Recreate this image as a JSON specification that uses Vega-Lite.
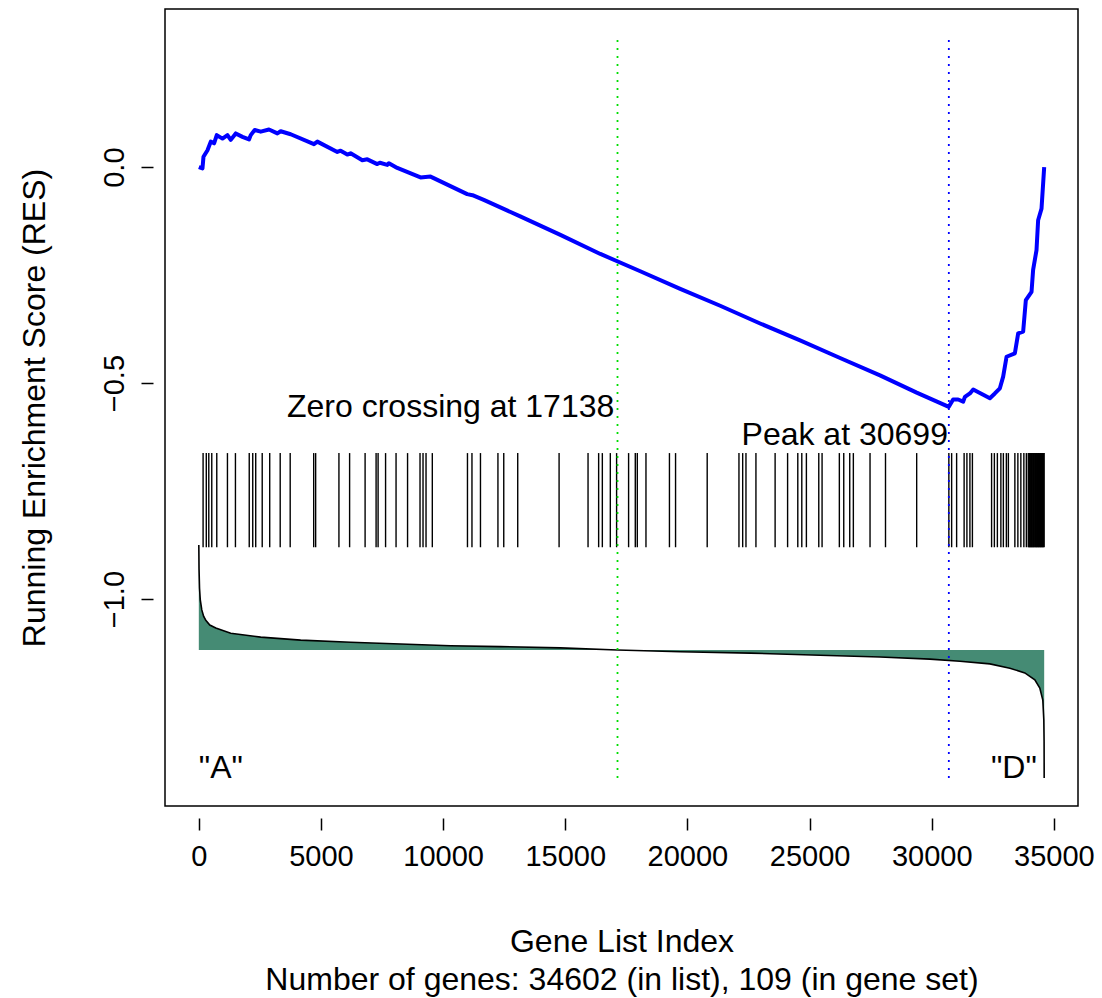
{
  "$schema": "https://vega.github.io/schema/vega-lite/v6.json",
  "autosize": {"type": "none"},
  "padding": {"left": 165, "top": 9, "right": 24, "bottom": 192},
  "width": 913,
  "height": 797,
  "background": "white",
  "config": {
    "font": "Liberation Sans",
    "view": {"stroke": "black", "strokeWidth": 1.5},
    "axis": {"grid": false, "labelColor": "black", "titleColor": "black", "tickColor": "black", "domain": false, "labelFont": "Liberation Sans", "titleFont": "Liberation Sans", "titleFontWeight": "normal"}
  },
  "datasets": {
    "es": [
      {"x": 1, "res": 0}, {"x": 151, "res": -0.003}, {"x": 192, "res": 0.024}, {"x": 356, "res": 0.039}, {"x": 491, "res": 0.059}, {"x": 626, "res": 0.055}, {"x": 736, "res": 0.074}, {"x": 969, "res": 0.066}, {"x": 1173, "res": 0.074}, {"x": 1308, "res": 0.063}, {"x": 1513, "res": 0.078}, {"x": 1787, "res": 0.070}, {"x": 2056, "res": 0.064}, {"x": 2126, "res": 0.074}, {"x": 2289, "res": 0.086}, {"x": 2535, "res": 0.082}, {"x": 2874, "res": 0.087}, {"x": 3217, "res": 0.078}, {"x": 3352, "res": 0.083}, {"x": 3761, "res": 0.076}, {"x": 4714, "res": 0.053}, {"x": 4853, "res": 0.059}, {"x": 5670, "res": 0.035}, {"x": 5805, "res": 0.038}, {"x": 6079, "res": 0.029}, {"x": 6214, "res": 0.032}, {"x": 6693, "res": 0.016}, {"x": 6897, "res": 0.018}, {"x": 7306, "res": 0.007}, {"x": 7412, "res": 0.010}, {"x": 7715, "res": 0.005}, {"x": 7780, "res": 0.009}, {"x": 8123, "res": -0.002}, {"x": 9076, "res": -0.024}, {"x": 9485, "res": -0.022}, {"x": 10985, "res": -0.0625}, {"x": 11202, "res": -0.065}, {"x": 11664, "res": -0.076}, {"x": 13156, "res": -0.114}, {"x": 14800, "res": -0.157}, {"x": 16435, "res": -0.201}, {"x": 18070, "res": -0.241}, {"x": 19705, "res": -0.282}, {"x": 21341, "res": -0.321}, {"x": 22976, "res": -0.362}, {"x": 24611, "res": -0.401}, {"x": 26247, "res": -0.442}, {"x": 27882, "res": -0.482}, {"x": 29383, "res": -0.522}, {"x": 30699, "res": -0.555}, {"x": 30875, "res": -0.538}, {"x": 31080, "res": -0.538}, {"x": 31287, "res": -0.543}, {"x": 31357, "res": -0.532}, {"x": 31562, "res": -0.524}, {"x": 31697, "res": -0.515}, {"x": 32379, "res": -0.535}, {"x": 32583, "res": -0.524}, {"x": 32788, "res": -0.512}, {"x": 32923, "res": -0.485}, {"x": 33062, "res": -0.439}, {"x": 33402, "res": -0.431}, {"x": 33537, "res": -0.385}, {"x": 33741, "res": -0.381}, {"x": 33851, "res": -0.308}, {"x": 34084, "res": -0.289}, {"x": 34149, "res": -0.238}, {"x": 34288, "res": -0.192}, {"x": 34354, "res": -0.123}, {"x": 34493, "res": -0.096}, {"x": 34602, "res": 0.0}
    ],
    "hits": [
      {"pos": 176}, {"pos": 307}, {"pos": 409}, {"pos": 531}, {"pos": 736}, {"pos": 1173}, {"pos": 1500}, {"pos": 2065}, {"pos": 2208}, {"pos": 2330}, {"pos": 2596}, {"pos": 2903}, {"pos": 3332}, {"pos": 3741}, {"pos": 4702}, {"pos": 4783}, {"pos": 5736}, {"pos": 6173}, {"pos": 6807}, {"pos": 7257}, {"pos": 7339}, {"pos": 7645}, {"pos": 8074}, {"pos": 8545}, {"pos": 9055}, {"pos": 9178}, {"pos": 9301}, {"pos": 9558}, {"pos": 10997}, {"pos": 11181}, {"pos": 11529},
      {"pos": 12244}, {"pos": 12482}, {"pos": 13054}, {"pos": 14747}, {"pos": 15932}, {"pos": 16366}, {"pos": 16517}, {"pos": 16844}, {"pos": 17101}, {"pos": 17592}, {"pos": 17866}, {"pos": 17948}, {"pos": 18303}, {"pos": 19264}, {"pos": 19514}, {"pos": 20809}, {"pos": 22109}, {"pos": 22261}, {"pos": 22396}, {"pos": 22804}, {"pos": 23589},
      {"pos": 24100}, {"pos": 24517}, {"pos": 24681}, {"pos": 24869}, {"pos": 25376}, {"pos": 25511}, {"pos": 26218}, {"pos": 26398}, {"pos": 26643}, {"pos": 26791}, {"pos": 27474}, {"pos": 28107}, {"pos": 29383},
      {"pos": 30700}, {"pos": 30814}, {"pos": 31018}, {"pos": 31325}, {"pos": 31439}, {"pos": 31562}, {"pos": 31664}, {"pos": 32449}, {"pos": 32563}, {"pos": 32686}, {"pos": 32829}, {"pos": 32931}, {"pos": 33054}, {"pos": 33136}, {"pos": 33402}, {"pos": 33525}, {"pos": 33647}, {"pos": 33770}, {"pos": 33872},
      {"pos": 33950}, {"pos": 33980}, {"pos": 34005}, {"pos": 34030}, {"pos": 34060}, {"pos": 34085}, {"pos": 34110}, {"pos": 34140}, {"pos": 34165}, {"pos": 34190}, {"pos": 34220}, {"pos": 34250}, {"pos": 34275}, {"pos": 34300}, {"pos": 34330}, {"pos": 34355}, {"pos": 34380}, {"pos": 34410}, {"pos": 34435}, {"pos": 34460}, {"pos": 34490}, {"pos": 34515}, {"pos": 34540}, {"pos": 34570}, {"pos": 34600}
    ],
    "metric": [
      {"x": 1, "m": -0.875}, {"x": 10, "m": -0.93}, {"x": 30, "m": -0.975}, {"x": 61, "m": -1.002}, {"x": 123, "m": -1.025}, {"x": 200, "m": -1.040}, {"x": 286, "m": -1.049}, {"x": 450, "m": -1.060}, {"x": 695, "m": -1.067}, {"x": 1308, "m": -1.079}, {"x": 2535, "m": -1.088}, {"x": 4170, "m": -1.095}, {"x": 6214, "m": -1.100}, {"x": 8258, "m": -1.104}, {"x": 10302, "m": -1.108}, {"x": 12347, "m": -1.110}, {"x": 14800, "m": -1.113}, {"x": 17130, "m": -1.118}, {"x": 19706, "m": -1.122}, {"x": 22567, "m": -1.125}, {"x": 25429, "m": -1.130}, {"x": 27882, "m": -1.134}, {"x": 29926, "m": -1.139}, {"x": 31153, "m": -1.144}, {"x": 32379, "m": -1.150}, {"x": 33197, "m": -1.160}, {"x": 33810, "m": -1.171}, {"x": 34219, "m": -1.187}, {"x": 34423, "m": -1.206}, {"x": 34546, "m": -1.234}, {"x": 34587, "m": -1.280}, {"x": 34598, "m": -1.33}, {"x": 34602, "m": -1.414}
    ],
    "zeroCross": [{"x": 17138}],
    "peak": [{"x": 30699}],
    "notesRight": [
      {"label": "Zero crossing at 17138", "x": 17007, "y": -0.556},
      {"label": "Peak at 30699", "x": 30662, "y": -0.621},
      {"label": "\"D\"", "x": 34301, "y": -1.391}
    ],
    "notesLeft": [
      {"label": "\"A\"", "x": 0, "y": -1.391}
    ]
  },
  "layer": [
    {
      "data": {"name": "metric"},
      "mark": {"type": "area", "color": "#458B74", "opacity": 1},
      "encoding": {
        "x": {"field": "x", "type": "quantitative", "scale": {"domain": [-1383, 35986], "nice": false, "zero": false},
          "axis": {"values": [0, 5000, 10000, 15000, 20000, 25000, 30000, 35000], "format": "d", "labelFontSize": 29, "labelFlush": false, "labelOverlap": false, "offset": 12, "tickSize": 12, "tickWidth": 1.5, "labelPadding": 12,
            "title": ["Gene List Index", "Number of genes: 34602 (in list), 109 (in gene set)"], "titleFontSize": 32, "titleLineHeight": 38, "titlePadding": 55}},
        "y": {"field": "m", "type": "quantitative", "scale": {"domain": [-1.479, 0.366], "nice": false, "zero": false},
          "axis": {"values": [0, -0.5, -1], "format": ".1f", "labelFontSize": 29, "labelAngle": 270, "labelAlign": "center", "labelBaseline": "bottom", "offset": 12, "tickSize": 12, "tickWidth": 1.5, "labelPadding": 12,
            "title": "Running Enrichment Score (RES)", "titleFontSize": 32, "titlePadding": 49}},
        "y2": {"datum": -1.118}
      }
    },
    {
      "data": {"name": "metric"},
      "mark": {"type": "line", "color": "black", "strokeWidth": 1.6},
      "encoding": {"x": {"field": "x", "type": "quantitative"}, "y": {"field": "m", "type": "quantitative"}}
    },
    {
      "mark": {"type": "rule", "color": "black", "strokeWidth": 2},
      "encoding": {"x": {"datum": 1}, "x2": {"datum": 34602}, "y": {"datum": -1.118}}
    },
    {
      "data": {"name": "hits"},
      "mark": {"type": "rule", "color": "black", "strokeWidth": 1.4},
      "encoding": {"x": {"field": "pos", "type": "quantitative"}, "y": {"datum": -0.662}, "y2": {"datum": -0.880}}
    },
    {
      "data": {"name": "zeroCross"},
      "mark": {"type": "rule", "color": "#00DD00", "strokeWidth": 1.8, "strokeDash": [2, 6]},
      "encoding": {"x": {"field": "x", "type": "quantitative"}, "y": {"datum": 0.294}, "y2": {"datum": -1.414}}
    },
    {
      "data": {"name": "peak"},
      "mark": {"type": "rule", "color": "#0000FF", "strokeWidth": 1.8, "strokeDash": [2, 6]},
      "encoding": {"x": {"field": "x", "type": "quantitative"}, "y": {"datum": 0.294}, "y2": {"datum": -1.414}}
    },
    {
      "data": {"name": "es"},
      "mark": {"type": "line", "color": "#0000FF", "strokeWidth": 4, "strokeJoin": "round"},
      "encoding": {"x": {"field": "x", "type": "quantitative"}, "y": {"field": "res", "type": "quantitative"}}
    },
    {
      "mark": {"type": "rule", "color": "black", "strokeWidth": 1.5, "strokeDash": [8, 7]},
      "encoding": {"x": {"datum": 1}, "x2": {"datum": 34602}, "y": {"datum": 0}}
    },
    {
      "data": {"name": "notesRight"},
      "mark": {"type": "text", "align": "right", "baseline": "middle", "fontSize": 32, "color": "black", "font": "Liberation Sans"},
      "encoding": {"x": {"field": "x", "type": "quantitative"}, "y": {"field": "y", "type": "quantitative"}, "text": {"field": "label"}}
    },
    {
      "data": {"name": "notesLeft"},
      "mark": {"type": "text", "align": "left", "baseline": "middle", "fontSize": 32, "color": "black", "font": "Liberation Sans"},
      "encoding": {"x": {"field": "x", "type": "quantitative"}, "y": {"field": "y", "type": "quantitative"}, "text": {"field": "label"}}
    },
    {
      "mark": {"type": "rule", "color": "black", "strokeWidth": 1.5},
      "encoding": {"x": {"datum": 0}, "x2": {"datum": 35000}, "y": {"datum": -1.507}}
    },
    {
      "mark": {"type": "rule", "color": "black", "strokeWidth": 1.5},
      "encoding": {"x": {"datum": -1840}, "x2": {"datum": -1840}, "y": {"datum": 0}, "y2": {"datum": -1.0}}
    }
  ]
}
